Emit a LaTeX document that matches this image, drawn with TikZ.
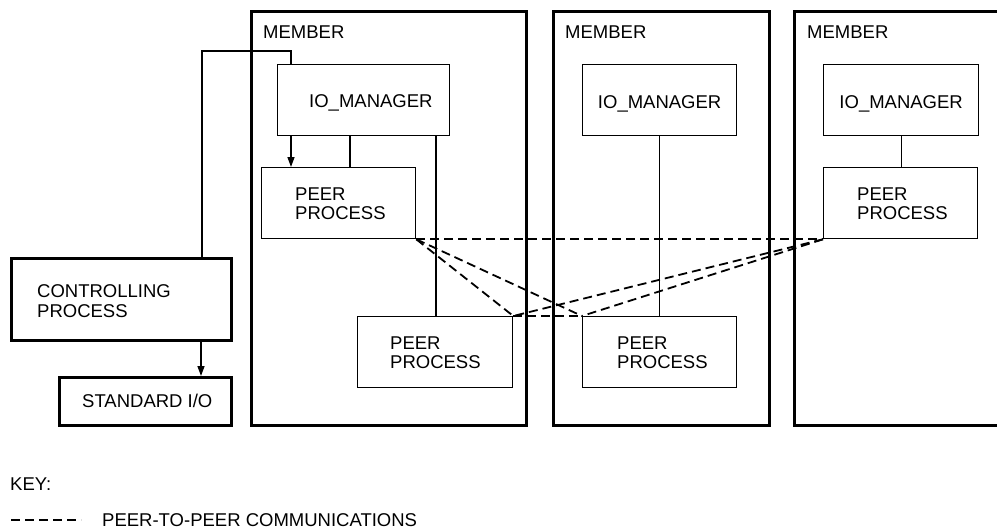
\documentclass[tikz,border=0pt]{standalone}
\usepackage{fontspec}
\setmainfont{Liberation Sans}
\usetikzlibrary{arrows.meta}
\begin{document}
\begin{tikzpicture}[x=1pt,y=-1pt,
  thin line/.style={line width=1.3pt},
  member/.style={draw,line width=3pt,anchor=north west,inner sep=0pt},
  thickbox/.style={draw,line width=2.8pt,anchor=north west,inner sep=0pt},
  box/.style={draw,line width=1.3pt,anchor=north west,inner sep=0pt},
  lbl/.style={inner sep=0pt,align=left,font=\fontsize{18.5}{19.5}\selectfont},
  p2p/.style={line width=1.8pt,dash pattern=on 9pt off 5pt},
  arr/.style={thin line,-{Triangle[length=10pt,width=7pt]}}]
\clip (0,0) rectangle (997,531);
% members
\node[member,minimum width=275pt,minimum height=414pt] (m1) at (250,10) {};
\node[member,minimum width=216pt,minimum height=414pt] (m2) at (552,10) {};
\node[member,minimum width=230pt,minimum height=414pt] (m3) at (793,10) {};
\node[lbl,anchor=base west] (m1l) at (263,38) {MEMBER};
\node[lbl,anchor=base west] (m2l) at (565,38) {MEMBER};
\node[lbl,anchor=base west] (m3l) at (807,38) {MEMBER};
% io managers
\node[box,minimum width=172pt,minimum height=71pt] (io1) at (277,64) {};
\node[box,minimum width=154pt,minimum height=71pt] (io2) at (582,64) {};
\node[box,minimum width=155pt,minimum height=71pt] (io3) at (823,64) {};
\node[lbl,anchor=base west] (io1l) at (309,107.5) {IO\_MANAGER};
\node[lbl,anchor=base] (io2l) at ([yshift=-8pt]io2.center) {IO\_MANAGER};
\node[lbl,anchor=base] (io3l) at ([yshift=-8pt]io3.center) {IO\_MANAGER};
% peer processes
\node[box,minimum width=154pt,minimum height=71pt] (p1) at (261,167) {};
\node[box,minimum width=155pt,minimum height=71pt] (p2) at (357,316) {};
\node[box,minimum width=154pt,minimum height=71pt] (p3) at (582,316) {};
\node[box,minimum width=154pt,minimum height=71pt] (p4) at (823,167) {};
\node[lbl,anchor=west] (p1l) at ([xshift=34pt,yshift=-0.5pt]p1.west) {PEER\\PROCESS};
\node[lbl,anchor=west] (p2l) at ([xshift=33pt,yshift=-0.5pt]p2.west) {PEER\\PROCESS};
\node[lbl,anchor=west] (p3l) at ([xshift=35pt,yshift=-0.5pt]p3.west) {PEER\\PROCESS};
\node[lbl,anchor=west] (p4l) at ([xshift=34pt,yshift=-0.5pt]p4.west) {PEER\\PROCESS};
% controlling process and standard io
\node[thickbox,minimum width=220pt,minimum height=82pt] (ctrl) at (10,257) {};
\node[lbl,anchor=west] (ctrll) at ([xshift=27pt,yshift=-1.5pt]ctrl.west) {CONTROLLING\\PROCESS};
\node[thickbox,minimum width=172pt,minimum height=48pt] (sio) at (58,376) {};
\node[lbl,anchor=base west] (siol) at (82,407) {STANDARD I/O};
% solid connectors
\draw[thin line] ([xshift=14pt]io1.north west) -- ++(0,-13) -| ([xshift=192pt]ctrl.north west);
\draw[arr] ([xshift=191pt]ctrl.south west) -- ([xshift=191pt]ctrl.south west |- sio.north);
\draw[arr] ([xshift=14pt]io1.south west) -- ([xshift=14pt]io1.south west |- p1.north);
\draw[thin line] ([xshift=73pt]io1.south west) -- ([xshift=73pt]io1.south west |- p1.north);
\draw[thin line] ([xshift=159pt]io1.south west) -- ([xshift=159pt]io1.south west |- p2.north);
\draw[thin line] (io2.south) -- (io2.south |- p3.north);
\draw[thin line] (io3.south) -- (io3.south |- p4.north);
% peer-to-peer
\draw[p2p] (p1.south east) -- (p4.south west);
\draw[p2p] (p1.south east) -- (p2.north east);
\draw[p2p] (p1.south east) -- (p3.north west);
\draw[p2p] (p2.north east) -- (p3.north west);
\draw[p2p] (p4.south west) -- (p2.north east);
\draw[p2p] (p4.south west) -- (p3.north west);
% key
\node[lbl,anchor=base west] (key) at (10,490) {KEY:};
\coordinate (k1) at (11,520);
\coordinate (k2) at (81,520);
\draw[p2p] (k1) -- (k2);
\node[lbl,anchor=west] (keyl) at (102,520) {PEER-TO-PEER COMMUNICATIONS};
\end{tikzpicture}
\end{document}
